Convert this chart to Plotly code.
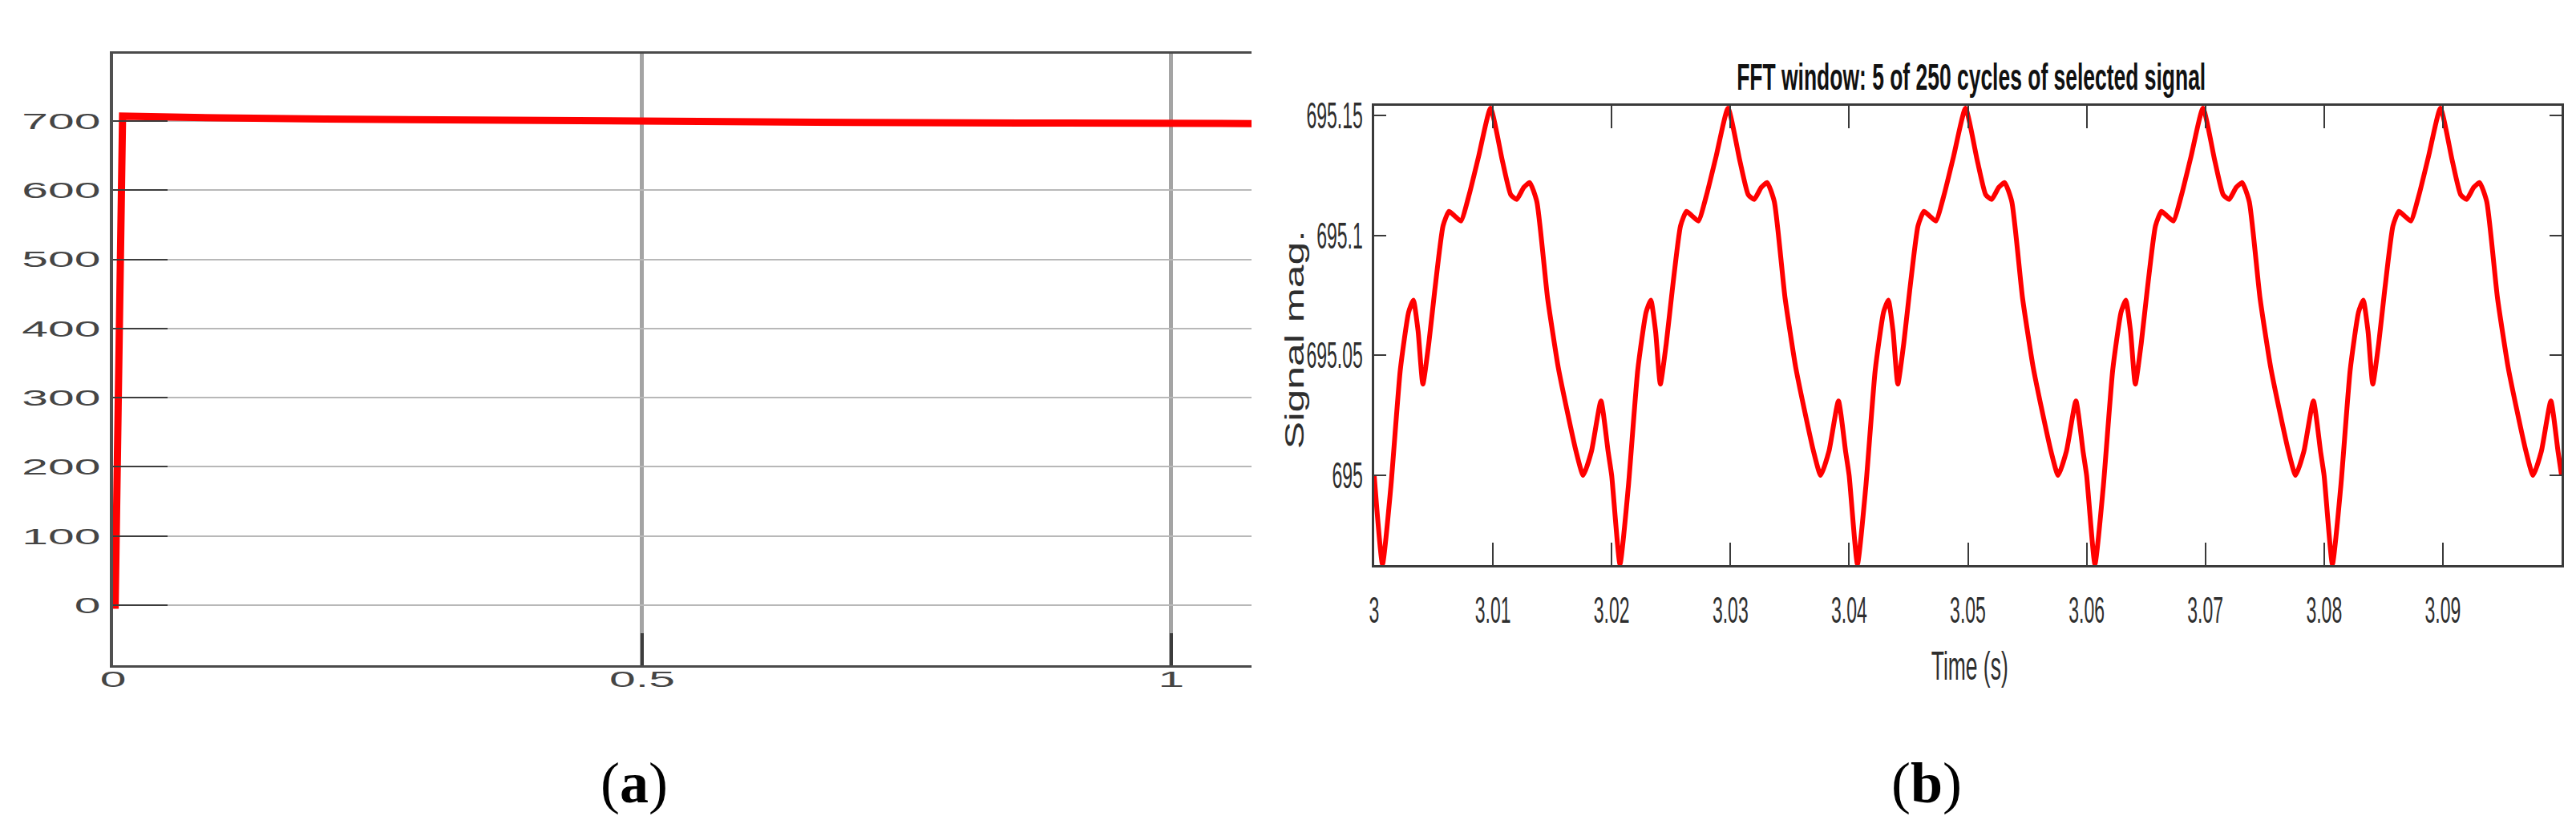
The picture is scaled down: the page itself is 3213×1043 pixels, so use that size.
import plotly.graph_objects as go

W, H = 3213, 1043

# ---------------- panel (a): start-up transient ----------------
time_a = [0.0, 0.002, 0.009, 0.02, 0.05, 0.1, 0.2, 0.35, 0.5, 0.7, 0.9, 1.0, 1.076]
value_a = [0.0, 0.0, 707.0, 706.4, 705.6, 704.5, 702.8, 700.6, 699.2, 697.9, 697.0, 696.6, 696.3]
xticks_a = [0, 0.5, 1]
xticktext_a = ["0", "0.5", "1"]
yticks_a = [0, 100, 200, 300, 400, 500, 600, 700]
yticktext_a = ["0", "100", "200", "300", "400", "500", "600", "700"]

# ---------------- panel (b): FFT window, 5 cycles ----------------
cycle1_t = [3.0000, 3.0007, 3.0014, 3.0022, 3.0029, 3.0033, 3.0037, 3.0041, 3.0046, 3.0051, 3.0058,
            3.0063, 3.0068, 3.0073, 3.0080, 3.0088, 3.0098, 3.0108, 3.0115, 3.0120, 3.0126, 3.0131,
            3.0137, 3.0146, 3.0155, 3.0162, 3.0170, 3.0176, 3.0183, 3.0191, 3.0197]
cycle2_t = [3.0200, 3.0207, 3.0214, 3.0222, 3.0229, 3.0233, 3.0237, 3.0241, 3.0246, 3.0251, 3.0258,
            3.0263, 3.0268, 3.0273, 3.0280, 3.0288, 3.0298, 3.0308, 3.0315, 3.0320, 3.0326, 3.0331,
            3.0337, 3.0346, 3.0355, 3.0362, 3.0370, 3.0376, 3.0383, 3.0391, 3.0397]
cycle3_t = [3.0400, 3.0407, 3.0414, 3.0422, 3.0429, 3.0433, 3.0437, 3.0441, 3.0446, 3.0451, 3.0458,
            3.0463, 3.0468, 3.0473, 3.0480, 3.0488, 3.0498, 3.0508, 3.0515, 3.0520, 3.0526, 3.0531,
            3.0537, 3.0546, 3.0555, 3.0562, 3.0570, 3.0576, 3.0583, 3.0591, 3.0597]
cycle4_t = [3.0600, 3.0607, 3.0614, 3.0622, 3.0629, 3.0633, 3.0637, 3.0641, 3.0646, 3.0651, 3.0658,
            3.0663, 3.0668, 3.0673, 3.0680, 3.0688, 3.0698, 3.0708, 3.0715, 3.0720, 3.0726, 3.0731,
            3.0737, 3.0746, 3.0755, 3.0762, 3.0770, 3.0776, 3.0783, 3.0791, 3.0797]
cycle5_t = [3.0800, 3.0807, 3.0814, 3.0822, 3.0829, 3.0833, 3.0837, 3.0841, 3.0846, 3.0851, 3.0858,
            3.0863, 3.0868, 3.0873, 3.0880, 3.0888, 3.0898, 3.0908, 3.0915, 3.0920, 3.0926, 3.0931,
            3.0937, 3.0946, 3.0955, 3.0962, 3.0970, 3.0976, 3.0983, 3.0991, 3.0997, 3.1000]

cycle1_v = [695.000, 694.963, 694.995, 695.044, 695.068, 695.073, 695.060, 695.038, 695.055, 695.077, 695.104,
            695.110, 695.108, 695.106, 695.117, 695.133, 695.153, 695.131, 695.117, 695.115, 695.120, 695.122,
            695.114, 695.074, 695.045, 695.028, 695.010, 695.000, 695.010, 695.031, 695.010]
cycle2_v = [695.000, 694.963, 694.995, 695.044, 695.068, 695.073, 695.060, 695.038, 695.055, 695.077, 695.104,
            695.110, 695.108, 695.106, 695.117, 695.133, 695.153, 695.131, 695.117, 695.115, 695.120, 695.122,
            695.114, 695.074, 695.045, 695.028, 695.010, 695.000, 695.010, 695.031, 695.010]
cycle3_v = [695.000, 694.963, 694.995, 695.044, 695.068, 695.073, 695.060, 695.038, 695.055, 695.077, 695.104,
            695.110, 695.108, 695.106, 695.117, 695.133, 695.153, 695.131, 695.117, 695.115, 695.120, 695.122,
            695.114, 695.074, 695.045, 695.028, 695.010, 695.000, 695.010, 695.031, 695.010]
cycle4_v = [695.000, 694.963, 694.995, 695.044, 695.068, 695.073, 695.060, 695.038, 695.055, 695.077, 695.104,
            695.110, 695.108, 695.106, 695.117, 695.133, 695.153, 695.131, 695.117, 695.115, 695.120, 695.122,
            695.114, 695.074, 695.045, 695.028, 695.010, 695.000, 695.010, 695.031, 695.010]
cycle5_v = [695.000, 694.963, 694.995, 695.044, 695.068, 695.073, 695.060, 695.038, 695.055, 695.077, 695.104,
            695.110, 695.108, 695.106, 695.117, 695.133, 695.153, 695.131, 695.117, 695.115, 695.120, 695.122,
            695.114, 695.074, 695.045, 695.028, 695.010, 695.000, 695.010, 695.031, 695.010, 695.000]

xticks_b = [3.00, 3.01, 3.02, 3.03, 3.04, 3.05, 3.06, 3.07, 3.08, 3.09]
xticktext_b = ["3", "3.01", "3.02", "3.03", "3.04", "3.05", "3.06", "3.07", "3.08", "3.09"]
yticks_b = [695.00, 695.05, 695.10, 695.15]
yticktext_b = ["695", "695.05", "695.1", "695.15"]

title_b = "FFT window: 5 of 250 cycles of selected signal"
xlabel_b = "Time (s)"
ylabel_b = "Signal mag."
panel_labels = ["(<b>a</b>)", "(<b>b</b>)"]

time_b = cycle1_t + cycle2_t + cycle3_t + cycle4_t + cycle5_t
value_b = cycle1_v + cycle2_v + cycle3_v + cycle4_v + cycle5_v

SANS = "Liberation Sans, Arial, sans-serif"
NARROW = "Liberation Sans Narrow, Arial Narrow, Liberation Sans, Arial, sans-serif"
SERIF = "Liberation Serif, Times New Roman, serif"

fig = go.Figure()
fig.add_trace(go.Scatter(x=time_a, y=value_a, mode="lines",
                         line=dict(color="#ff0000", width=9),
                         xaxis="x", yaxis="y", showlegend=False, hoverinfo="skip"))
fig.add_trace(go.Scatter(x=time_b, y=value_b, mode="lines",
                         line=dict(color="#ff0000", width=6, shape="spline", smoothing=0.5),
                         xaxis="x2", yaxis="y2", showlegend=False, hoverinfo="skip"))

fig.update_layout(
    template="none",
    width=W, height=H, autosize=False,
    margin=dict(l=0, r=0, t=0, b=0, pad=0),
    paper_bgcolor="white", plot_bgcolor="white",
    showlegend=False,
    xaxis=dict(
        domain=[133 / W, 1553 / W], range=[0, 1.0758], anchor="y",
        tickmode="array", tickvals=xticks_a, ticktext=xticktext_a,
        showgrid=True, gridcolor="#a4a4a4", gridwidth=5,
        ticks="inside", ticklen=40, tickwidth=4, tickcolor="#3c3c3c",
        showline=True, linecolor="#4a4a4a", linewidth=3, mirror=True,
        zeroline=False,
        tickfont=dict(family=SANS, size=28, color="#454545"),
        ticklabelstandoff=-10,
    ),
    yaxis=dict(
        domain=[1 - 822 / H, 1 - 59 / H], range=[-86.9, 797.3], anchor="x",
        tickmode="array", tickvals=yticks_a, ticktext=yticktext_a,
        showgrid=True, gridcolor="#b8b8b8", gridwidth=2,
        ticks="inside", ticklen=68, tickwidth=2, tickcolor="#3c3c3c",
        showline=True, linecolor="#505050", linewidth=4,
        zeroline=False,
        tickfont=dict(family=SANS, size=28, color="#454545"),
        ticklabelstandoff=6,
    ),
    xaxis2=dict(
        domain=[1706 / W, 3187 / W], range=[3.0, 3.1], anchor="y2",
        tickmode="array", tickvals=xticks_b, ticktext=xticktext_b,
        showgrid=False, zeroline=False,
        ticks="inside", ticklen=28, tickwidth=2, tickcolor="#3a3a3a",
        showline=True, linecolor="#3a3a3a", linewidth=3, mirror="ticks",
        tickfont=dict(family=SANS, size=46, color="#2e2e2e"),
        ticklabelstandoff=14,
    ),
    yaxis2=dict(
        domain=[1 - 697 / H, 1 - 124 / H], range=[694.9626, 695.154], anchor="x2",
        tickmode="array", tickvals=yticks_b, ticktext=yticktext_b,
        showgrid=False, zeroline=False,
        ticks="inside", ticklen=15, tickwidth=2, tickcolor="#3a3a3a",
        showline=True, linecolor="#3a3a3a", linewidth=3, mirror="ticks",
        tickfont=dict(family=SANS, size=46, color="#2e2e2e"),
        ticklabelstandoff=2,
    ),
    annotations=[
        dict(text=title_b, x=2450 / W, y=1 - 88 / H, xref="paper", yref="paper",
             xanchor="center", yanchor="middle", showarrow=False,
             font=dict(family=NARROW, size=46, color="#111111", weight=700)),
        dict(text=xlabel_b, x=2448 / W, y=1 - 823 / H, xref="paper", yref="paper",
             xanchor="center", yanchor="middle", showarrow=False,
             font=dict(family=SANS, size=50, color="#2e2e2e")),
        dict(text=ylabel_b, x=1606 / W, y=1 - 416 / H, xref="paper", yref="paper",
             xanchor="center", yanchor="middle", showarrow=False, textangle=-90,
             font=dict(family=SANS, size=33, color="#2e2e2e")),
        dict(text=panel_labels[0], x=783 / W, y=1 - 969 / H, xref="paper", yref="paper",
             xanchor="center", yanchor="middle", showarrow=False,
             font=dict(family=SERIF, size=72, color="#000000")),
        dict(text=panel_labels[1], x=2395 / W, y=1 - 969 / H, xref="paper", yref="paper",
             xanchor="center", yanchor="middle", showarrow=False,
             font=dict(family=SERIF, size=72, color="#000000")),
    ],
)

# Horizontal glyph scaling of the text (the reference figure was resampled
# non-uniformly: panel (a) is stretched horizontally, panel (b) squeezed).
post = """
var gd = document.getElementById('{plot_id}');
function scaleText(nodes, fn){
  nodes.forEach(function(t){
    t.removeAttribute('textLength');
    var w = t.getComputedTextLength();
    if (w > 0) {
      t.setAttribute('lengthAdjust', 'spacingAndGlyphs');
      t.setAttribute('textLength', fn(w).toFixed(1));
    }
  });
}
function q(sel){ return Array.prototype.slice.call(gd.querySelectorAll(sel)); }
function applyScaling(){
  scaleText(q('g.xtick text, g.ytick text'), function(w){ return w * 2.1; });
  scaleText(q('g.x2tick text, g.y2tick text'), function(w){ return w * 0.5; });
  scaleText(q('.annotation[data-index="0"] text.annotation-text'), function(w){ return 585; });
  scaleText(q('.annotation[data-index="1"] text.annotation-text'), function(w){ return 96; });
  scaleText(q('.annotation[data-index="2"] text.annotation-text'), function(w){ return 273; });
}
applyScaling();
"""

fig.write_html("out.html", post_script=post)
